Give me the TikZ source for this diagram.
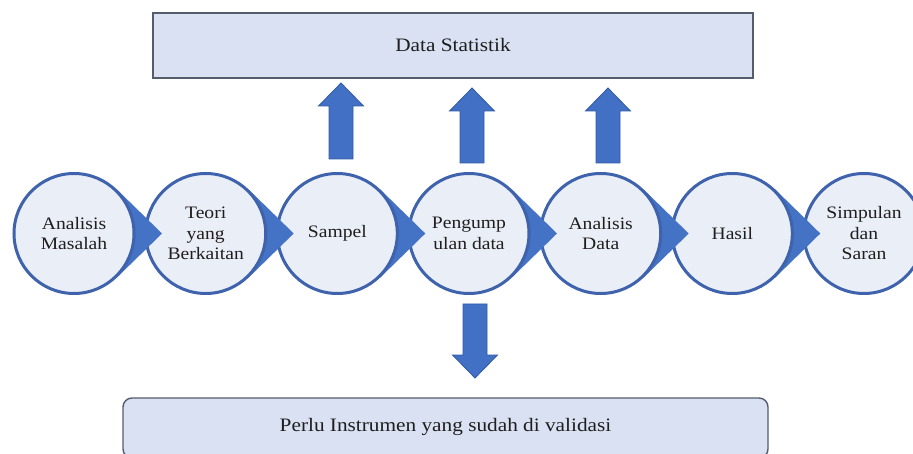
\documentclass[tikz,border=0pt]{standalone}
\usepackage{fontspec}
\setmainfont{Liberation Serif}[FakeStretch=1.12]
\usetikzlibrary{calc}
\definecolor{circfill}{RGB}{234,238,247}
\definecolor{circline}{RGB}{62,98,172}
\definecolor{tipfill}{RGB}{68,114,196}
\definecolor{arrowblue}{RGB}{66,112,196}
\definecolor{arrowdark}{RGB}{50,90,165}
\definecolor{boxfill}{RGB}{217,225,242}
\definecolor{boxline}{RGB}{85,92,110}
\definecolor{txt}{RGB}{30,30,30}
\newcommand\myblockarrow[2]{%
  \path ($(#2)!23pt!(#1)$) coordinate (bah);
  \filldraw[blockarrowstyle] ($(#1)+(-12,0)$) -- ($(bah)+(-12,0)$) -- ($(bah)+(-22.5,0)$) -- (#2)
    -- ($(bah)+(22.5,0)$) -- ($(bah)+(12,0)$) -- ($(#1)+(12,0)$) -- cycle;}
\newcommand\mytip[1]{%
  \fill[tipshape] ($(#1)+(46:61.5)$) -- ($(#1)+(88,0)$) -- ($(#1)+(-46:61.5)$) -- cycle;}
\begin{document}
\begin{tikzpicture}[x=1pt,y=-1pt,
  stepcirc/.style={circle, draw=circline, line width=3pt, fill=circfill, minimum size=120pt,
    inner sep=0pt, align=center, font=\fontsize{17.5}{20.5}\selectfont, text=txt},
  tipshape/.style={fill=tipfill},
  databox/.style={rectangle, draw=boxline, line width=1.4pt, fill=boxfill,
    font=\fontsize{19}{22}\selectfont, text=txt},
  blockarrowstyle/.style={fill=arrowblue, draw=arrowdark, line width=0.8pt, line join=miter},
]
\useasboundingbox (0,0) rectangle (913,454);
\fill[white] (0,0) rectangle (913,454);

% top and bottom boxes
\node[databox, minimum width=600pt, minimum height=65pt] (stat) at (453,45.5) {Data Statistik};
\node[databox, rounded corners=9pt, minimum width=645pt, minimum height=60pt] (instr) at (445.5,428)
  {\raisebox{6pt}{Perlu Instrumen yang sudah di validasi}};

% circle centres
\coordinate (p1) at (74,233.5);
\coordinate (p2) at (205.7,233.5);
\coordinate (p3) at (337.3,233.5);
\coordinate (p4) at (469,233.5);
\coordinate (p5) at (600.7,233.5);
\coordinate (p6) at (732.3,233.5);
\coordinate (p7) at (864,233.5);

% drawn right to left so that each tip lies over the next circle
\node[stepcirc] (c7) at (p7) {Simpulan\\dan\\Saran};
\mytip{p6}
\node[stepcirc] (c6) at (p6) {Hasil};
\mytip{p5}
\node[stepcirc] (c5) at (p5) {Analisis\\Data};
\mytip{p4}
\node[stepcirc] (c4) at (p4) {Pengump\\ulan data};
\mytip{p3}
\node[stepcirc] (c3) at (p3) {Sampel};
\mytip{p2}
\node[stepcirc] (c2) at (p2) {Teori\\yang\\Berkaitan};
\mytip{p1}
\node[stepcirc] (c1) at (p1) {Analisis\\Masalah};

% block arrows
\coordinate (u1b) at (341,159);
\coordinate (u1t) at (341,83);
\coordinate (u2b) at (472,163);
\coordinate (u2t) at (472,88);
\coordinate (u3b) at (608,163);
\coordinate (u3t) at (608,88);
\coordinate (d1b) at (475,304);
\coordinate (d1t) at (475,378);
\myblockarrow{u1b}{u1t}
\myblockarrow{u2b}{u2t}
\myblockarrow{u3b}{u3t}
\myblockarrow{d1b}{d1t}
\end{tikzpicture}
\end{document}
